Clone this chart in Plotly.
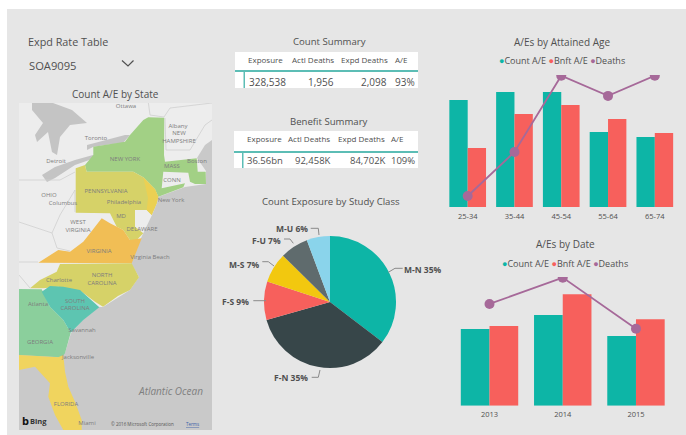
import plotly.graph_objects as go

W, H = 686, 435
FONT = "Open Sans"
TEAL, RED, PURPLE = "#0DB5A6", "#F7605C", "#A66999"
TXT = "#505050"

# ---- data ----
age_groups = ["25-34", "35-44", "45-54", "55-64", "65-74"]
age_count_ae = [107, 115, 115, 75, 70]
age_bnft_ae = [59, 93, 102, 88, 74]
age_deaths = [49, 245, 585, 495, 585]

date_years = ["2013", "2014", "2015"]
date_count_ae = [76.7, 90.7, 69.7]
date_bnft_ae = [79.7, 111.4, 86.4]
date_deaths = [649, 817, 491]

pie_classes = ["M-N", "F-N", "F-S", "M-S", "F-U", "M-U"]
pie_exposure = [35.4, 35.2, 9.4, 7.4, 6.9, 5.7]
pie_colors = [TEAL, "#374649", RED, "#F2C80F", "#5F6B6D", "#8AD4EB"]
pie_labels = ["M-N 35%", "F-N 35%", "F-S 9%", "M-S 7%", "F-U 7%", "M-U 6%"]

table_headers = ["Exposure", "Actl Deaths", "Expd Deaths", "A/E"]
count_row = ["328,538", "1,956", "2,098", "93%"]
benefit_row = ["36.56bn", "92,458K", "84,702K", "109%"]

# background map outlines (reference-map backdrop)
land = [(19,103),(212,103),(212,140),(205,145),(197,158),(206,171),(206,184),(185,187),(158,197),(157,203),(152,215),(146,228),
        (141,238),(131,263),(139,277),(130,290),(103,307),(99,307),(83,320),(71,333),(65,353),(19,353)]
lake_huron = [(32,103),(53,103),(72,110),(87,123),(70,125),(60,137),(57,155),(52,152),(48,132),(37,142),(35,135),(43,123),(32,110)]
lake_erie = [(42,175),(55,167),(75,160),(93,155),(95,158),(75,165),(55,178),(47,182)]
lake_ontario = [(87,145),(95,143),(125,135),(130,135),(123,143),(105,145),(93,147),(87,150)]
states = {
    "NY": ([(93.3,146.7),(105,145),(125,141.7),(130,135),(143.3,120),(148.3,117.3),(164.3,117.7),(164,155),(165,161.7),(196.7,158.3),
            (197.7,171.7),(205.7,171.7),(206,184),(195,184),(190,181.7),(188.3,172.7),(163.3,171.7),(161.7,188.3),(185,183.3),(183.3,187.3),
            (158.3,196.7),(155,189.3),(143.3,177.3),(133.3,171.7),(86.7,171.7),(85,165),(93.3,155)], "#A2D085"),
    "PA": ([(75.7,168.3),(85,165),(86.7,171.7),(133.3,171.7),(143.3,177.3),(155,189.3),(158.3,196.7),(156.7,203.3),(151.7,215),(146.7,210),
            (135,210),(135,226.7),(143.3,233.3),(136.7,240),(130,240),(123.3,230),(116.7,226.7),(110,213.3),(75.7,212.7)], "#D6D268"),
    "NJ": ([(143.3,177.3),(155,189.3),(158.3,196.7),(156.7,203.3),(151.7,215),(146.7,210),(148,198)], "#EBD053"),
    "VA": ([(38.3,262.7),(58.3,250),(70,251.7),(83.3,241.7),(90,233.3),(101.7,218.3),(110,223.3),(116.7,226.7),(123.3,230),(130,240),
            (141.7,238.3),(131.7,263.3)], "#F1BE55"),
    "NC": ([(30,288.3),(40,280),(56.7,271.7),(60,264),(131.7,263.3),(139,277.3),(130,290),(118,296),(103,306.7),(95,301.7),(81.7,291.7),
            (58.3,286.7),(43.3,288.3)], "#D6D268"),
    "GA": ([(19,289),(41.7,289.3),(50,306.7),(63.3,320),(70.7,332.7),(65,353.3),(61.7,357.3),(19,355)], "#8BCF9C"),
    "SC": ([(41.7,291.7),(50,286),(63.3,286.7),(80,290),(99.3,307.3),(83.3,320),(70.7,332.7),(63.3,320),(50,306.7)], "#5DC5B1"),
    "FL": ([(19,355),(58.3,357.3),(63.3,355),(65,371.7),(68.3,386.7),(75,401.7),(81.7,420),(81.7,430),(63.3,430),(55,415),(48.3,396.7),
            (50,383.3),(35,366.7),(19,370)], "#F0D45E"),
}
borders = [
    [(19,222),(35,227),(52,233),(57,248),(70,251)],
    [(75,212),(75,190),(60,215),(52,233)],
    [(19,180),(60,180),(75,172)],
    [(148,100),(150,115),(164,117),(170,108),(212,103)],
    [(165,118),(166,150),(190,150),(205,125),(212,120)],
    [(19,262),(38,262)],
    [(19,275),(30,288)],
]
map_label_names = ["Ottawa", "Toronto", "Detroit", "OHIO", "Columbus", "NEW YORK", "PENNSYLVANIA", "Philadelphia", "New York", "Boston",
                   "MD", "DELAWARE", "WEST", "VIRGINIA", "VIRGINIA", "Virginia Beach", "NORTH", "CAROLINA", "Charlotte", "SOUTH", "CAROLINA",
                   "Atlanta", "GEORGIA", "Savannah", "Jacksonville", "FLORIDA", "Miami", "CONN", "MASS", "Albany", "NEW", "HAMPSHIRE"]
map_label_x = [126, 96, 56, 49, 63, 125, 106, 124, 171, 197, 121, 142, 78, 78, 99, 150, 102, 102, 59, 75, 75,
               38, 40, 82, 78, 66, 87, 172, 172, 178, 179, 179]
map_label_y = [106, 138, 161, 195, 203, 159, 191, 202, 200, 161, 216, 229, 222, 230, 251, 257, 275, 283, 280, 301, 308,
               304, 342, 330, 357, 404, 423, 180, 166, 126, 133, 141]

# ---- helpers ----
def fx(x): return x / W
def fy(y): return 1 - y / H

annotations, shapes = [], []

def label(x, y, text, size=10, anchor="center", color=TXT):
    annotations.append(dict(x=fx(x), y=fy(y), xref="paper", yref="paper", text=text, showarrow=False,
                            xanchor=anchor, yanchor="middle", font=dict(family=FONT, size=size, color=color),
                            borderpad=0))

def rect(x0, y0, x1, y1, color):
    shapes.append(dict(type="rect", xref="paper", yref="paper", x0=fx(x0), x1=fx(x1), y0=fy(y0), y1=fy(y1),
                       fillcolor=color, line=dict(width=0), layer="below"))

def polyline(pts, color="#8a8a8a", width=1, layer="above"):
    path = "M" + " L".join(f"{fx(a):.5f},{fy(b):.5f}" for a, b in pts)
    shapes.append(dict(type="path", xref="paper", yref="paper", path=path, line=dict(color=color, width=width), layer=layer))

def poly_trace(pts, color):
    return go.Scatter(x=[p[0] for p in pts] + [pts[0][0]], y=[p[1] for p in pts] + [pts[0][1]], xaxis="x3", yaxis="y5",
                      mode="lines", fill="toself", fillcolor=color, line=dict(width=0), hoverinfo="skip", showlegend=False)

def legend_text():
    dot = lambda c: f'<span style="color:{c}">●</span>'
    return f'{dot(TEAL)}Count A/E {dot(RED)}Bnft A/E {dot(PURPLE)}Deaths'

# ---- page furniture ----
rect(7, 9, 686, 435, "#E6E6E6")
rect(19, 103, 212, 430, "#C9C9C9")
rect(235, 52, 418, 88, "#FFFFFF")
rect(234, 131, 418, 168, "#FFFFFF")
rect(235, 70, 418, 72, "#5CBDB5")
rect(243.5, 72, 245, 88, "#5CBDB5")
rect(234, 151, 418, 153, "#5CBDB5")
rect(242, 153, 243.5, 168, "#5CBDB5")

label(27, 41, "Expd Rate Table", 10.8, "left")
label(28, 65, "SOA9095", 11.2, "left")
polyline([(122, 60.5), (128, 66), (133.5, 60.5)], TXT, 1.2)
label(115.5, 94, "Count A/E by State", 10)
label(329, 41.5, "Count Summary", 9.6)
label(329, 122, "Benefit Summary", 9.6)
label(330.5, 201.5, "Count Exposure by Study Class", 9.6)
label(561.5, 41.5, "A/Es by Attained Age", 10)
label(565, 244, "A/Es by Date", 10)
label(562, 60.5, legend_text(), 9)
label(565, 263, legend_text(), 9)

# ---- tables ----
for x, h in zip([265.7, 313, 364, 401], table_headers):
    label(x, 59, h, 8)
for x, h in zip([264, 309.3, 361, 397.3], table_headers):
    label(x, 138, h, 8)
for x, v, a in zip([248, 335, 388.3, 415.5], count_row, ["left", "right", "right", "right"]):
    label(x, 81.5, v, 10, a)
for x, v, a in zip([246, 332, 387, 415.7], benefit_row, ["left", "right", "right", "right"]):
    label(x, 161, v, 9.5, a)

# ---- pie labels & leaders ----
pie_label_pos = [(422.7, 269), (291, 377.3), (235, 301.7), (244.3, 264.3), (266.7, 240), (292.3, 228.3)]
leaders = [
    [(402.7, 268.3), (395, 268.3), (388.3, 272.3)],
    [(311.7, 377.3), (318.3, 377.3), (320, 370)],
    [(253.3, 300.7), (266, 300.7)],
    [(262.3, 261.7), (268.3, 261.7), (274, 266)],
    [(284, 239), (290, 239), (293.3, 243.3)],
    [(310.7, 228.3), (318.3, 228.3), (319, 235)],
]
for (x, y), t in zip(pie_label_pos, pie_labels):
    label(x, y, f"<b>{t}</b>", 8.5)
for pts in leaders:
    polyline(pts)

# ---- traces ----
fig = go.Figure()

fig.add_trace(go.Bar(x=age_groups, y=age_count_ae, name="Count A/E", marker=dict(color=TEAL, line=dict(width=0)), xaxis="x", yaxis="y"))
fig.add_trace(go.Bar(x=age_groups, y=age_bnft_ae, name="Bnft A/E", marker=dict(color=RED, line=dict(width=0)), xaxis="x", yaxis="y"))
fig.add_trace(go.Scatter(x=age_groups, y=age_deaths, name="Deaths", mode="lines+markers", xaxis="x", yaxis="y2",
                         line=dict(color=PURPLE, width=1.8), marker=dict(color=PURPLE, size=10)))

fig.add_trace(go.Bar(x=date_years, y=date_count_ae, name="Count A/E", marker=dict(color=TEAL, line=dict(width=0)), xaxis="x2", yaxis="y3"))
fig.add_trace(go.Bar(x=date_years, y=date_bnft_ae, name="Bnft A/E", marker=dict(color=RED, line=dict(width=0)), xaxis="x2", yaxis="y3"))
fig.add_trace(go.Scatter(x=date_years, y=date_deaths, name="Deaths", mode="lines+markers", xaxis="x2", yaxis="y4",
                         line=dict(color=PURPLE, width=1.8), marker=dict(color=PURPLE, size=10)))

fig.add_trace(go.Pie(labels=pie_classes, values=pie_exposure, sort=False, direction="clockwise", rotation=0, textinfo="none",
                     marker=dict(colors=pie_colors, line=dict(width=0)),
                     domain=dict(x=[fx(330 - 66), fx(330 + 66)], y=[fy(302 + 66), fy(302 - 66)])))

fig.add_trace(poly_trace(land, "#EDEDED"))
for lake in (lake_huron, lake_erie, lake_ontario):
    fig.add_trace(poly_trace(lake, "#C4C4C4"))
for pts, col in states.values():
    fig.add_trace(poly_trace(pts, col))
for b in borders:
    fig.add_trace(go.Scatter(x=[p[0] for p in b], y=[p[1] for p in b], xaxis="x3", yaxis="y5", mode="lines",
                             line=dict(color="#CFCFCF", width=0.8), hoverinfo="skip", showlegend=False))
fig.add_trace(go.Scatter(x=map_label_x, y=map_label_y, xaxis="x3", yaxis="y5", mode="text", text=map_label_names,
                         textfont=dict(family=FONT, size=6, color="#7d7d7d"), hoverinfo="skip", showlegend=False))
fig.add_trace(go.Scatter(x=[171], y=[392], xaxis="x3", yaxis="y5", mode="text", text=["<i>Atlantic Ocean</i>"],
                         textfont=dict(family=FONT, size=10, color="#7f7f7f"), hoverinfo="skip", showlegend=False))

label(38, 421, "<b>Bing</b>", 7.5, "center", "#333333")
label(142, 424, "© 2016 Microsoft Corporation", 4.5, "center", "#555555")
label(192, 424, "<u>Terms</u>", 4.5, "center", "#3A5FA8")
label(25, 420, "<b>b</b>", 11, "center", "#111111")

axis_off = dict(visible=False, showgrid=False, zeroline=False, fixedrange=True)
tick_font = dict(family=FONT, size=7.5, color=TXT)

def cat_axis(x0, x1, anchor, standoff):
    return dict(domain=[fx(x0), fx(x1)], anchor=anchor, type="category", showgrid=False, zeroline=False, showline=False,
                ticks="", tickfont=tick_font, ticklabelstandoff=standoff, fixedrange=True)

fig.update_layout(
    width=W, height=H, autosize=False, margin=dict(l=0, r=0, t=0, b=0),
    paper_bgcolor="#FFFFFF", plot_bgcolor="rgba(0,0,0,0)", showlegend=False,
    barmode="group",
    bargap=0.216, bargroupgap=0,
    xaxis=cat_axis(444.3, 678.2, "y", 3),
    yaxis=dict(axis_off, domain=[fy(207), fy(75)], range=[0, 132], anchor="x"),
    yaxis2=dict(axis_off, domain=[fy(207), fy(75)], range=[0, 588], overlaying="y", anchor="x"),
    xaxis2=cat_axis(452.9, 672.6, "y3", 3),
    yaxis3=dict(axis_off, domain=[fy(405.7), fy(277)], range=[0, 128.7], anchor="x2"),
    yaxis4=dict(axis_off, domain=[fy(405.7), fy(277)], range=[0, 821], overlaying="y3", anchor="x2"),
    xaxis3=dict(axis_off, domain=[fx(19), fx(212)], range=[19, 212], anchor="y5"),
    yaxis5=dict(axis_off, domain=[fy(430), fy(103)], range=[430, 103], anchor="x3"),
    annotations=annotations, shapes=shapes,
    font=dict(family=FONT, color=TXT),
)

fig.write_html("out.html", config={"displayModeBar": False},
               post_script="document.body.style.margin='0';document.body.style.overflow='hidden';")
